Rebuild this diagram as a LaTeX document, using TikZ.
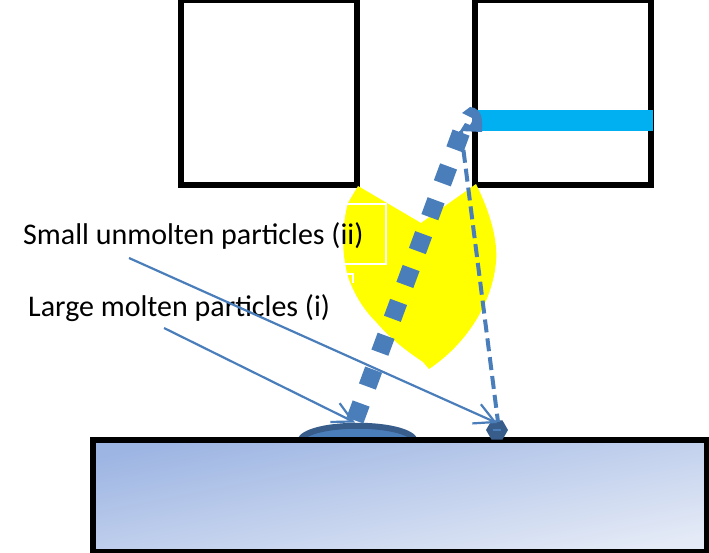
\documentclass[tikz,border=0pt]{standalone}
\usepackage{fontspec}
\setmainfont{Carlito}
\usetikzlibrary{arrows.meta,shapes.geometric}
\definecolor{lineblue}{HTML}{4A7EBB}
\definecolor{darkblue}{HTML}{385D8A}
\definecolor{cyanbar}{HTML}{00B0F0}
\definecolor{slabtop}{HTML}{9DB5E3}
\definecolor{slabend}{HTML}{E4EAF6}
\definecolor{plume}{RGB}{255,255,0}
\tikzset{
  chamber/.style={draw=black,line width=6pt,fill=white},
  lbl/.style={anchor=base west,inner sep=0pt,font=\fontsize{30}{34}\selectfont,text=black},
  pointer/.style={draw=lineblue,line width=2.2pt,-{Straight Barb[length=20pt,width=21pt,line width=2.2pt]}},
  thickflow/.style={draw=lineblue,line width=18pt,dash pattern=on 18pt off 18.1pt},
  thinflow/.style={draw=lineblue,line width=4pt,dash pattern=on 13pt off 6pt},
  whitebox/.style={draw=white,line width=2pt}
}
\begin{document}
\begin{tikzpicture}[x=1pt,y=-1pt]
\useasboundingbox (0,0) rectangle (709,553);
% chambers
\draw[chamber] (181,0.5) rectangle (357,185);
\draw[chamber] (474.5,0.5) rectangle (650.5,185);
\fill[cyanbar] (472,110) rectangle (653,131);
% yellow plume
\fill[plume] (358,186) -- (421,223) -- (476,184)
  .. controls (490,212) and (498,240) .. (496,262)
  .. controls (492,305) and (465,345) .. (429,369)
  -- (423,362)
  .. controls (405,350) and (390,338) .. (377,323)
  .. controls (367,313) and (360,303) .. (355,293)
  .. controls (350,283) and (347,275) .. (346,268)
  .. controls (342,250) and (342,225) .. (348,203)
  -- cycle;
\draw[whitebox] (346,204) -- (386,204) -- (386,264) -- (345,264);
\draw[whitebox] (346,274) -- (353,274) -- (353,283);
% droplet
\fill[lineblue] (298,440) .. controls (308,422) and (407,422) .. (417,440) -- cycle;
\draw[darkblue,line width=6pt] (300,440) .. controls (310,421) and (405,421) .. (415,440);
% substrate
\draw[black,line width=6pt,top color=slabtop,bottom color=slabend,shading angle=11] (93,440) rectangle (707,552);
% small particle
\node[regular polygon,regular polygon sides=6,fill=darkblue,inner sep=0pt,minimum size=22pt] (small) at (497,430) {};
\fill[lineblue] (493,429) rectangle (501,431);
% flow lines
\coordinate (thickA) at (354.9,420.4);
\coordinate (thickB) at (462,130);
\coordinate (thinA) at (461,131);
\coordinate (thinB) at (498,422);
\draw[thickflow] (thickA) -- (thickB);
\draw[thinflow] (thinA) -- (thinB);
\fill[lineblue] (462,113) -- (470,107) .. controls (476,107) and (482,112) .. (482,122)
  -- (482,132) -- (460,131) -- (465,123) -- (470,125) .. controls (472,122) and (473,120) .. (472,118) -- cycle;
% labels
\node[lbl] (labelii) at (23,245) {Small unmolten particles (ii)};
\node[lbl] (labeli) at (28,316) {Large molten particles (i)};
% pointers
\coordinate (startii) at (129,258);
\coordinate (tipii) at (497,423);
\coordinate (starti) at (164,328);
\coordinate (tipi) at (355,422.5);
\draw[pointer] (startii) -- (tipii);
\draw[pointer] (starti) -- (tipi);
\end{tikzpicture}
\end{document}
